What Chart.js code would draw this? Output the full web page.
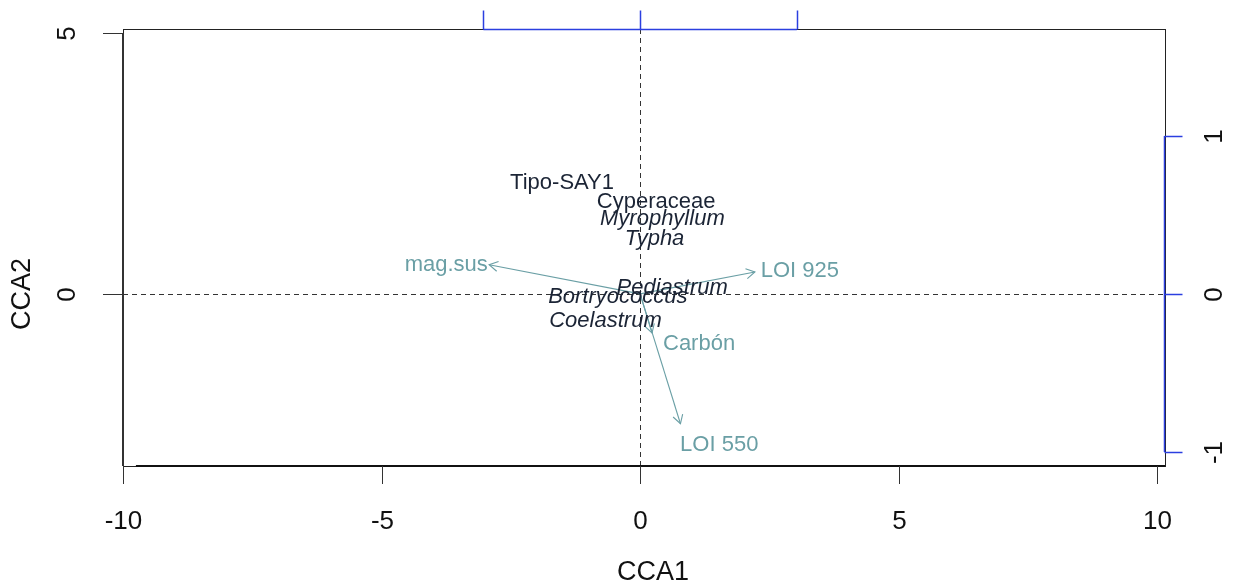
<!DOCTYPE html>
<html>
<head>
<meta charset="utf-8">
<script src="https://cdn.jsdelivr.net/npm/chart.js@4.4.0/dist/chart.umd.min.js"></script>
<style>
  html, body { margin: 0; padding: 0; background: #fff; }
  #wrap { width: 1233px; height: 586px; }
</style>
</head>
<body>
<div id="wrap"><canvas id="cca"></canvas></div>
<script>
// species scores (site text, CCA1 / CCA2)
const speciesNames = ['Tipo-SAY1', 'Cyperaceae', 'Myrophyllum', 'Typha', 'Pediastrum', 'Bortryococcus', 'Coelastrum'];
const speciesX = [-1.51, 0.31, 0.43, 0.28, 0.62, -0.43, -0.67];
const speciesY = [2.13, 1.76, 1.44, 1.05, 0.11, -0.06, -0.52];
const speciesItalic = [false, false, true, true, true, true, true];

// environmental arrows (tips, in main axis units)
const envNames = ['mag.sus', 'LOI 925', 'Carbón', 'LOI 550'];
const envX = [-2.92, 2.22, 0.23, 0.78];
const envY = [0.56, 0.42, -0.75, -2.49];
const envLabelX = [-3.75, 3.09, 1.14, 1.53];
const envLabelY = [0.56, 0.44, -0.96, -2.89];

// axis ticks
const xTicks = [-10, -5, 0, 5, 10];
const yTicks = [0, 5];
const arrowAxisTicks = [-1, 0, 1];
const arrowAxisUnit = 3.03; // one unit of the blue axes in main units

const darkText = '#1b2435';
const teal = '#6a9fa5';
const blue = '#2b3fe0';
const font = '"Liberation Sans", Arial, sans-serif';

const datasets = [];
datasets.push({
  label: 'species',
  data: speciesNames.map((n, i) => ({ x: speciesX[i], y: speciesY[i], name: n, italic: speciesItalic[i] })),
  pointRadius: 0,
  showLine: false
});
envNames.forEach((n, i) => {
  datasets.push({
    label: n,
    type: 'line',
    data: [{ x: 0, y: 0 }, { x: envX[i], y: envY[i] }],
    borderColor: teal,
    borderWidth: 1.1,
    pointRadius: 0,
    fill: false,
    tension: 0
  });
});

const rPlot = {
  id: 'rPlot',
  beforeDraw(chart) {
    const { ctx, chartArea: a, scales: { x, y } } = chart;
    ctx.save();
    // zero lines
    ctx.strokeStyle = '#333';
    ctx.lineWidth = 1;
    ctx.setLineDash([5, 4]);
    ctx.beginPath();
    ctx.moveTo(a.left, Math.round(y.getPixelForValue(0)) + 0.5);
    ctx.lineTo(a.right, Math.round(y.getPixelForValue(0)) + 0.5);
    ctx.moveTo(Math.round(x.getPixelForValue(0)) + 0.5, a.top);
    ctx.lineTo(Math.round(x.getPixelForValue(0)) + 0.5, a.bottom);
    ctx.stroke();
    ctx.setLineDash([]);
    ctx.restore();
  },
  afterDatasetsDraw(chart) {
    const { ctx, chartArea: a, scales: { x, y } } = chart;
    ctx.save();
    // arrow heads
    ctx.strokeStyle = teal;
    ctx.lineWidth = 1.1;
    envNames.forEach((n, i) => {
      const x0 = x.getPixelForValue(0), y0 = y.getPixelForValue(0);
      const x1 = x.getPixelForValue(envX[i]), y1 = y.getPixelForValue(envY[i]);
      const ang = Math.atan2(y1 - y0, x1 - x0);
      const len = 10, spread = Math.PI / 6;
      ctx.beginPath();
      ctx.moveTo(x1 - len * Math.cos(ang - spread), y1 - len * Math.sin(ang - spread));
      ctx.lineTo(x1, y1);
      ctx.lineTo(x1 - len * Math.cos(ang + spread), y1 - len * Math.sin(ang + spread));
      ctx.stroke();
    });
    // env labels
    ctx.fillStyle = teal;
    ctx.font = '22px ' + font;
    ctx.textAlign = 'center';
    ctx.textBaseline = 'middle';
    envNames.forEach((n, i) => {
      ctx.fillText(n, x.getPixelForValue(envLabelX[i]), y.getPixelForValue(envLabelY[i]));
    });
    // species labels
    ctx.fillStyle = darkText;
    const meta = chart.getDatasetMeta(0);
    meta.data.forEach((pt, i) => {
      const d = chart.data.datasets[0].data[i];
      ctx.font = (d.italic ? 'italic ' : '') + '22px ' + font;
      ctx.fillText(d.name, pt.x, pt.y);
    });

    // box
    ctx.strokeStyle = '#222';
    ctx.lineWidth = 1;
    ctx.strokeRect(Math.round(a.left) + 0.5, Math.round(a.top) + 0.5, Math.round(a.right - a.left), Math.round(a.bottom - a.top));

    // bottom axis
    ctx.strokeStyle = '#111';
    ctx.lineWidth = 2;
    ctx.beginPath();
    ctx.moveTo(x.getPixelForValue(-9.75), a.bottom);
    ctx.lineTo(a.right, a.bottom);
    ctx.stroke();
    ctx.lineWidth = 1;
    ctx.strokeStyle = '#333';
    ctx.fillStyle = '#111';
    ctx.font = '26px ' + font;
    ctx.textAlign = 'center';
    ctx.textBaseline = 'middle';
    xTicks.forEach(v => {
      const px = Math.round(x.getPixelForValue(v)) + 0.5;
      ctx.beginPath();
      ctx.moveTo(px, a.bottom);
      ctx.lineTo(px, a.bottom + 18);
      ctx.stroke();
      ctx.fillText(String(v), px, a.bottom + 56);
    });
    ctx.font = '27px ' + font;
    ctx.fillText('CCA1', x.getPixelForValue(0.25), a.bottom + 107);

    // left axis
    ctx.strokeStyle = '#333';
    ctx.lineWidth = 2;
    ctx.beginPath();
    ctx.moveTo(a.left, y.getPixelForValue(5));
    ctx.lineTo(a.left, a.bottom);
    ctx.stroke();
    ctx.lineWidth = 1;
    ctx.font = '26px ' + font;
    yTicks.forEach(v => {
      const py = Math.round(y.getPixelForValue(v)) + 0.5;
      ctx.beginPath();
      ctx.moveTo(a.left - 20, py);
      ctx.lineTo(a.left, py);
      ctx.stroke();
      ctx.save();
      ctx.translate(a.left - 55, py);
      ctx.rotate(-Math.PI / 2);
      ctx.fillText(String(v), 0, 0);
      ctx.restore();
    });
    ctx.font = '27px ' + font;
    ctx.save();
    ctx.translate(a.left - 100, y.getPixelForValue(0));
    ctx.rotate(-Math.PI / 2);
    ctx.fillText('CCA2', 0, 0);
    ctx.restore();

    // top blue axis (arrow scale)
    ctx.strokeStyle = blue;
    ctx.lineWidth = 1.5;
    const tTop = Math.round(a.top) + 0.5;
    ctx.beginPath();
    ctx.moveTo(x.getPixelForValue(-arrowAxisUnit), tTop);
    ctx.lineTo(x.getPixelForValue(arrowAxisUnit), tTop);
    ctx.stroke();
    arrowAxisTicks.forEach(v => {
      const px = Math.round(x.getPixelForValue(v * arrowAxisUnit)) + 0.5;
      ctx.beginPath();
      ctx.moveTo(px, tTop);
      ctx.lineTo(px, tTop - 19);
      ctx.stroke();
    });

    // right blue axis
    const rx = Math.round(a.right) - 0.5;
    ctx.beginPath();
    ctx.moveTo(rx, y.getPixelForValue(arrowAxisUnit));
    ctx.lineTo(rx, y.getPixelForValue(-arrowAxisUnit));
    ctx.stroke();
    ctx.fillStyle = '#111';
    ctx.font = '26px ' + font;
    arrowAxisTicks.forEach(v => {
      const py = Math.round(y.getPixelForValue(v * arrowAxisUnit)) + 0.5;
      ctx.beginPath();
      ctx.moveTo(rx, py);
      ctx.lineTo(rx + 18, py);
      ctx.stroke();
      ctx.save();
      ctx.translate(rx + 50, py);
      ctx.rotate(-Math.PI / 2);
      ctx.fillText(String(v), 0, 0);
      ctx.restore();
    });
    ctx.restore();
  }
};

new Chart(document.getElementById('cca'), {
  type: 'scatter',
  data: { datasets },
  options: {
    responsive: true,
    maintainAspectRatio: false,
    animation: false,
    layout: { padding: { left: 123, right: 68, top: 29, bottom: 120 } },
    plugins: { legend: { display: false }, tooltip: { enabled: false } },
    scales: {
      x: { type: 'linear', min: -10, max: 10.15, display: false },
      y: { type: 'linear', min: -3.3, max: 5.08, display: false }
    }
  },
  plugins: [rPlot]
});
</script>
</body>
</html>
